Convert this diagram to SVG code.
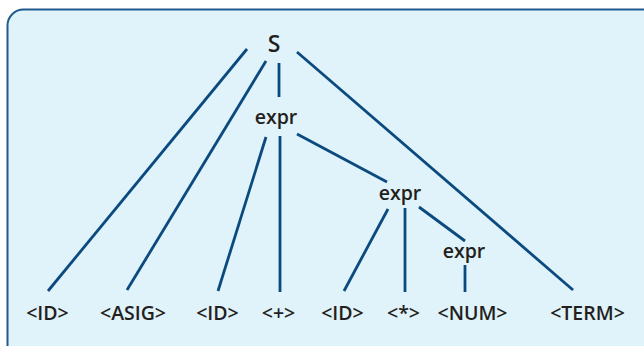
<svg xmlns="http://www.w3.org/2000/svg" width="644" height="346" viewBox="0 0 644 346">
<style>
.bg{fill:#e0f2fa;stroke:#1f5b8c;stroke-width:2}
.e{stroke:#0b4a7f;stroke-width:2.8;fill:none}
text{font-family:"Open Sans","Liberation Sans",sans-serif;font-weight:600;font-size:19.5px;fill:#231f20;text-anchor:middle;letter-spacing:0px}
.s{font-size:23px}
</style>
<rect class="bg" x="7.5" y="9.5" width="660" height="360" rx="16" ry="16"/>
<g id="edges">
<line class="e" x1="247" y1="49" x2="48" y2="291"/>
<line class="e" x1="266" y1="61" x2="127" y2="290"/>
<line class="e" x1="279" y1="63" x2="279" y2="97"/>
<line class="e" x1="297" y1="52" x2="573" y2="290"/>
<line class="e" x1="266" y1="137" x2="218" y2="291"/>
<line class="e" x1="280" y1="136" x2="280" y2="292"/>
<line class="e" x1="297" y1="134" x2="387" y2="182"/>
<line class="e" x1="388" y1="209" x2="344" y2="291"/>
<line class="e" x1="405" y1="208" x2="405" y2="292"/>
<line class="e" x1="419" y1="207" x2="465" y2="241"/>
<line class="e" x1="465" y1="265" x2="465" y2="292"/>
</g>
<g id="S"><text class="s" x="274" y="52">S</text></g>
<g id="expr1"><text x="276" y="124">expr</text></g>
<g id="expr2"><text x="400" y="200">expr</text></g>
<g id="expr3"><text x="464" y="258">expr</text></g>
<g id="id1"><text x="47.5" y="320">&lt;ID&gt;</text></g>
<g id="asig"><text x="133" y="320">&lt;ASIG&gt;</text></g>
<g id="id2"><text x="217.5" y="320">&lt;ID&gt;</text></g>
<g id="plus"><text x="278.5" y="320">&lt;+&gt;</text></g>
<g id="id3"><text x="342.5" y="320">&lt;ID&gt;</text></g>
<g id="star"><text x="403.5" y="320">&lt;*&gt;</text></g>
<g id="num"><text x="472.5" y="320">&lt;NUM&gt;</text></g>
<g id="term"><text x="587.5" y="320">&lt;TERM&gt;</text></g>
</svg>
